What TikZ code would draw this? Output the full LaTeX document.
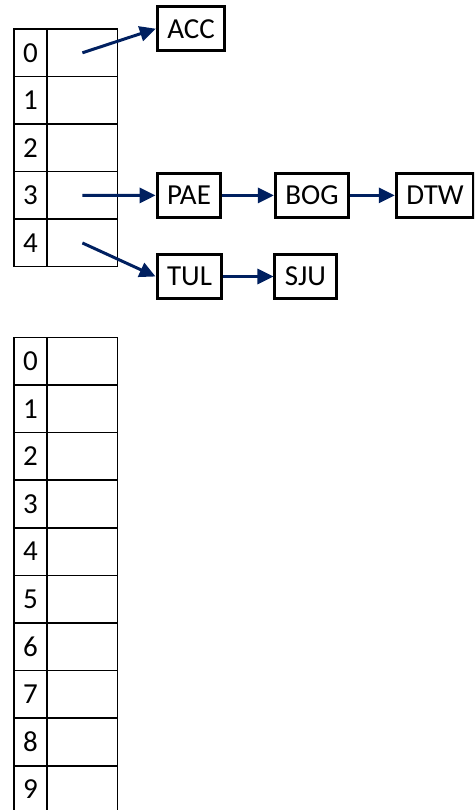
\documentclass[tikz,border=0pt]{standalone}
\usepackage{fontspec}
\setmainfont{Carlito}
\usepackage{xcolor}
\usepackage{tikz}
\usetikzlibrary{arrows.meta}
\definecolor{ptr}{RGB}{0,32,96}

\begin{document}
\begin{tikzpicture}[x=0.02cm, y=-0.02cm, font=\fontsize{16.5}{18}\selectfont,
  idx/.style={draw, line width=0.85pt, minimum width=0.66cm, minimum height=0.95cm, inner sep=0pt},
  slot/.style={draw, line width=0.85pt, minimum width=1.414cm, minimum height=0.95cm, inner sep=0pt},
  bx/.style={draw, line width=1.7pt, minimum height=0.89cm, inner xsep=0.2cm, inner ysep=0pt},
  arr/.style={-{Triangle[length=0.32cm, width=0.3cm]}, line width=1.7pt, draw=ptr}]
\clip (0,0) rectangle (474,810);
% small table
\foreach \i in {0,...,4} {
  \node[idx] (a\i) at (30.5,{52.8+47.54*\i}) {\i};
  \node[slot] (s\i) at (82.4,{52.8+47.54*\i}) {};
}
% big table
\foreach \i in {0,...,9} {
  \node[idx] (b\i) at (30.5,{361.1+47.6*\i}) {\i};
  \node[slot] (c\i) at (82.4,{361.1+47.6*\i}) {};
}
% chains
\node[bx] (acc) at (191,28.7) {ACC};
\node[bx] (pae) at (189,195.4) {PAE};
\node[bx] (bog) at (312,195.4) {BOG};
\node[bx] (dtw) at (435,195.4) {DTW};
\node[bx] (tul) at (189.5,276.5) {TUL};
\node[bx] (sju) at (305.5,276.5) {SJU};
\draw[arr] (s0.center) -- (acc.west);
\draw[arr] (s3.center) -- (pae.west);
\draw[arr] (s4.center) -- (tul.west);
\draw[arr] (pae) -- (bog); \draw[arr] (bog) -- (dtw);
\draw[arr] (tul) -- (sju);
\end{tikzpicture}
\end{document}
